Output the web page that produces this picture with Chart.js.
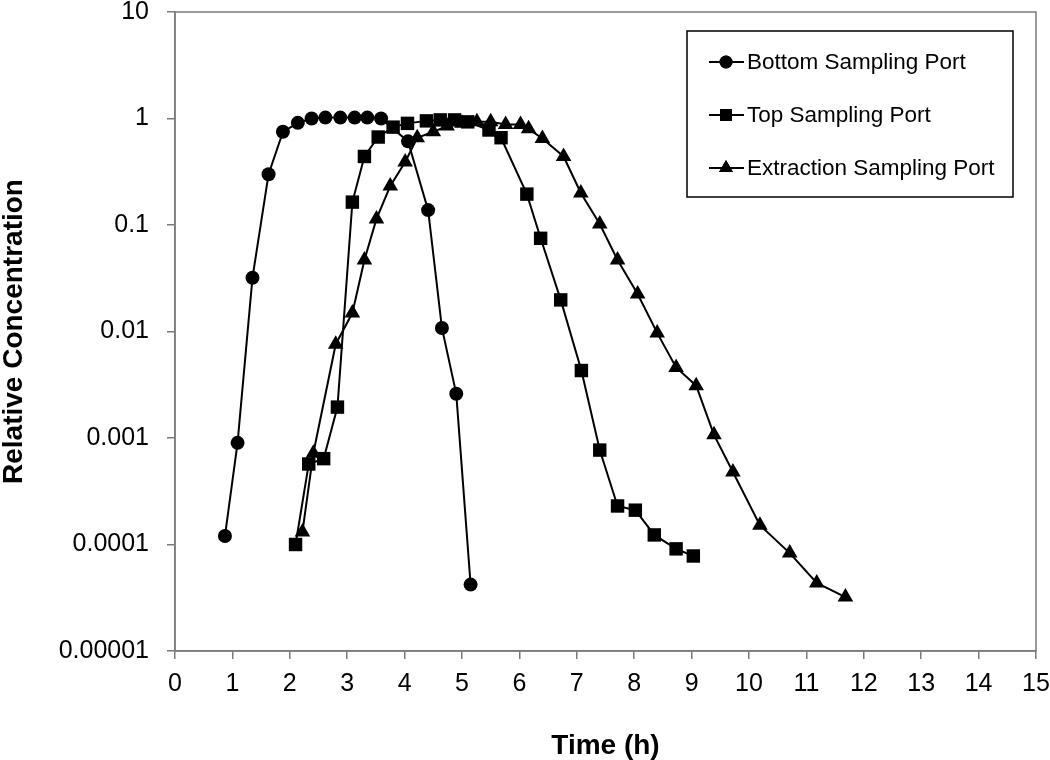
<!DOCTYPE html>
<html>
<head>
<meta charset="utf-8">
<script src="https://cdn.jsdelivr.net/npm/chart.js@4.4.1/dist/chart.umd.min.js"></script>
<style>
  html, body { margin: 0; padding: 0; background: #fff; }
  #wrap { width: 1050px; height: 760px; position: relative; }
</style>
</head>
<body>
<div id="wrap"><canvas id="c" width="1050" height="760"></canvas></div>
<script>
// ---- Data ----
const seriesNames = ["Bottom Sampling Port", "Top Sampling Port", "Extraction Sampling Port"];

const bottomTime = [0.87, 1.09, 1.35, 1.63, 1.88, 2.14, 2.38, 2.62, 2.88, 3.13, 3.35, 3.59, 4.06, 4.41, 4.65, 4.90, 5.15];
const bottomConc = [0.00012, 0.0009, 0.032, 0.30, 0.75, 0.91, 1.0, 1.02, 1.02, 1.02, 1.02, 1.0, 0.61, 0.138, 0.0108, 0.0026, 0.000042];

const topTime = [2.10, 2.33, 2.59, 2.83, 3.09, 3.30, 3.54, 3.80, 4.05, 4.38, 4.62, 4.87, 5.10, 5.47, 5.68, 6.13, 6.37, 6.72, 7.08, 7.40, 7.71, 8.02, 8.35, 8.73, 9.03];
const topConc = [0.0001, 0.00057, 0.00064, 0.00195, 0.164, 0.44, 0.67, 0.83, 0.90, 0.95, 0.97, 0.97, 0.93, 0.78, 0.66, 0.195, 0.075, 0.0198, 0.0043, 0.00077, 0.00023, 0.00021, 0.000123, 0.000091, 0.000078];

const extrTime = [2.22, 2.41, 2.80, 3.09, 3.30, 3.51, 3.75, 4.01, 4.22, 4.50, 4.74, 5.00, 5.26, 5.50, 5.76, 6.02, 6.16, 6.40, 6.77, 7.07, 7.40, 7.71, 8.06, 8.40, 8.73, 9.08, 9.39, 9.72, 10.19, 10.71, 11.18, 11.68];
const extrConc = [0.000131, 0.00072, 0.0076, 0.0149, 0.047, 0.114, 0.232, 0.39, 0.66, 0.75, 0.85, 0.90, 0.93, 0.93, 0.88, 0.88, 0.80, 0.65, 0.44, 0.20, 0.102, 0.047, 0.0225, 0.0097, 0.0046, 0.0031, 0.00107, 0.00048, 0.000152, 0.000083, 0.0000436, 0.0000321];

const yTickValues = [0.00001, 0.0001, 0.001, 0.01, 0.1, 1, 10];
const yTickLabels = ["0.00001", "0.0001", "0.001", "0.01", "0.1", "1", "10"];
const xTickValues = [0,1,2,3,4,5,6,7,8,9,10,11,12,13,14,15];

const xTitle = "Time (h)";
const yTitle = "Relative Concentration";

// ---- Build datasets ----
function pts(xs, ys) { return xs.map((x, i) => ({ x: x, y: ys[i] })); }
const styles = [
  { pointStyle: 'circle', radius: 7, legendRadius: 6.5 },
  { pointStyle: 'rect', radius: 9.5, legendRadius: 8.5 },
  { pointStyle: 'triangle', radius: 9, legendRadius: 8 }
];
const rawData = [pts(bottomTime, bottomConc), pts(topTime, topConc), pts(extrTime, extrConc)];
const datasets = rawData.map((d, i) => ({
  label: seriesNames[i],
  data: d,
  borderColor: '#000',
  backgroundColor: '#000',
  borderWidth: 2,
  pointStyle: styles[i].pointStyle,
  pointRadius: styles[i].radius,
  pointHoverRadius: styles[i].radius,
  pointBorderWidth: 0,
  tension: 0,
  fill: false
}));

const FONT = '"Liberation Sans", Arial, sans-serif';
const AXIS_COLOR = '#7a7a7a';

// Legend box drawn inside the plot
const boxLegend = {
  id: 'boxLegend',
  afterDraw(chart) {
    const ctx = chart.ctx;
    const bx = 687, by = 31, bw = 326, bh = 166;
    ctx.save();
    ctx.fillStyle = '#fff';
    ctx.fillRect(bx, by, bw, bh);
    ctx.strokeStyle = '#000';
    ctx.lineWidth = 1.5;
    ctx.strokeRect(bx, by, bw, bh);
    ctx.font = '22.5px ' + FONT;
    ctx.textBaseline = 'middle';
    ctx.textAlign = 'left';
    chart.data.datasets.forEach((ds, i) => {
      const cy = 62 + i * 53;
      ctx.strokeStyle = '#000';
      ctx.lineWidth = 2;
      ctx.beginPath();
      ctx.moveTo(709, cy);
      ctx.lineTo(744, cy);
      ctx.stroke();
      ctx.fillStyle = '#000';
      Chart.helpers.drawPoint(ctx, { pointStyle: ds.pointStyle, radius: styles[i].legendRadius, rotation: 0, borderWidth: 0 }, 726, cy);
      ctx.fill();
      ctx.fillStyle = '#000';
      ctx.fillText(ds.label, 747, cy + 1);
    });
    ctx.restore();
  }
};

// Full frame around the plot area
const frame = {
  id: 'frame',
  afterDatasetsDraw(chart) {
    const a = chart.chartArea, ctx = chart.ctx;
    ctx.save();
    ctx.strokeStyle = AXIS_COLOR;
    ctx.lineWidth = 1.5;
    ctx.strokeRect(a.left, a.top, a.right - a.left, a.bottom - a.top);
    ctx.restore();
  }
};

new Chart(document.getElementById('c'), {
  type: 'line',
  data: { datasets: datasets },
  options: {
    responsive: false,
    animation: false,
    events: [],
    layout: { padding: { top: 12, right: 14, left: 0, bottom: 0 } },
    plugins: {
      legend: { display: false },
      tooltip: { enabled: false },
      title: { display: false }
    },
    scales: {
      x: {
        type: 'linear',
        min: 0, max: 15,
        afterBuildTicks(s) { s.ticks = xTickValues.map(v => ({ value: v })); },
        afterFit(s) { s.height = 109; s.paddingLeft = 0; s.paddingRight = 0; },
        grid: {
          display: true, drawOnChartArea: false, drawTicks: true,
          tickLength: 8, color: AXIS_COLOR, lineWidth: 1.5
        },
        border: { display: true, color: AXIS_COLOR, width: 1.5 },
        ticks: {
          color: '#000', font: { family: FONT, size: 25, lineHeight: 1 }, padding: 13,
          maxRotation: 0, autoSkip: false,
          callback: v => String(v)
        },
        title: {
          display: true, text: xTitle, color: '#000',
          font: { family: FONT, size: 28, weight: 'bold', lineHeight: 1 },
          padding: { top: 0, bottom: 0 }
        }
      },
      y: {
        type: 'logarithmic',
        min: 0.00001, max: 10,
        afterBuildTicks(s) { s.ticks = yTickValues.map(v => ({ value: v })); },
        afterFit(s) { s.width = 175; s.paddingTop = 0; s.paddingBottom = 0; },
        grid: {
          display: true, drawOnChartArea: false, drawTicks: true,
          tickLength: 8, color: AXIS_COLOR, lineWidth: 1.5
        },
        border: { display: true, color: AXIS_COLOR, width: 1.5 },
        ticks: {
          color: '#000', font: { family: FONT, size: 25, lineHeight: 1 }, padding: 18,
          autoSkip: false,
          callback: function (v) {
            const i = yTickValues.findIndex(t => Math.abs(Math.log10(t) - Math.log10(v)) < 1e-6);
            return i >= 0 ? yTickLabels[i] : '';
          }
        },
        title: {
          display: true, text: yTitle, color: '#000',
          font: { family: FONT, size: 28, weight: 'bold', lineHeight: 1 },
          padding: { top: 0, bottom: 0 }
        }
      }
    }
  },
  plugins: [frame, boxLegend]
});
</script>
</body>
</html>
